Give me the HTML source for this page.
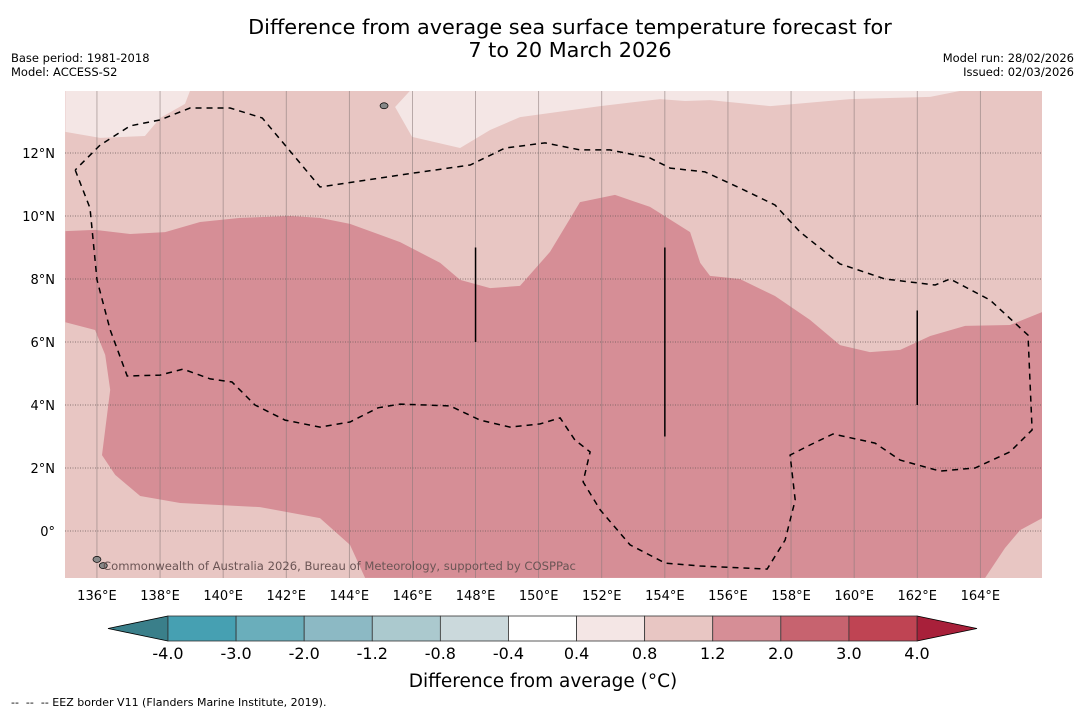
<!DOCTYPE html>
<html><head><meta charset="utf-8"><style>
body{margin:0;background:#fff;font-family:"DejaVu Sans","Liberation Sans",sans-serif;}
svg text{font-family:"DejaVu Sans","Liberation Sans",sans-serif;}
</style></head><body>
<svg id="c" width="1085" height="713" xmlns="http://www.w3.org/2000/svg">
<text x="570" y="34" font-size="20.8" text-anchor="middle">Difference from average sea surface temperature forecast for</text>
<text x="570" y="57" font-size="20.8" text-anchor="middle">7 to 20 March 2026</text>
<text x="11" y="62" font-size="11.5">Base period: 1981-2018</text>
<text x="11" y="76" font-size="11.5">Model: ACCESS-S2</text>
<text x="1074" y="62" font-size="11.5" text-anchor="end">Model run: 28/02/2026</text>
<text x="1074" y="76" font-size="11.5" text-anchor="end">Issued: 02/03/2026</text>
<defs><clipPath id="mc"><rect x="65" y="91" width="977" height="487"/></clipPath></defs>
<g id="map" clip-path="url(#mc)"></g>
<g id="axes"></g>
<g id="cbar"></g>
<text x="543" y="687" font-size="18.5" text-anchor="middle">Difference from average (°C)</text>
<text x="11" y="706" font-size="11" xml:space="preserve">--  --  -- EEZ border V11 (Flanders Marine Institute, 2019).</text>
</svg>
<script>
const lonTicks=[136,138,140,142,144,146,148,150,152,154,156,158,160,162,164];
const latTicks=[0,2,4,6,8,10,12];
const lightTL=[[135,13.97],[138.95,13.97],[138.79,13.56],[138.0,13.11],[137.52,12.54],[136.1,12.48],[135,12.67]];
const lightTR=[[145.92,13.97],[145.45,13.46],[145.99,12.51],[147.51,12.16],[148.46,12.73],[149.41,13.14],[151.95,13.49],[153.85,13.71],[154.64,13.65],[155.43,13.68],[157.34,13.49],[159.87,13.71],[162.41,13.78],[163.36,13.97]];
const warmCore=[[135,9.52],[135.94,9.56],[137.05,9.43],[138.16,9.49],[139.27,9.81],[140.54,9.94],[142.12,10.0],[143.07,9.94],[144.02,9.75],[145.61,9.17],[146.88,8.51],[147.51,7.97],[148.46,7.71],[149.41,7.78],[150.36,8.86],[151.31,10.44],[152.42,10.67],[153.53,10.29],[154.8,9.49],[155.12,8.51],[155.43,8.1],[156.38,8.0],[157.49,7.46],[158.6,6.7],[159.55,5.9],[160.5,5.68],[161.46,5.75],[162.41,6.19],[163.52,6.51],[164.94,6.54],[165.96,6.95],[165.96,0.41],[165.26,0.03],[164.78,-0.54],[164.15,-1.49],[144.5,-1.49],[144.02,-0.44],[143.07,0.41],[141.17,0.76],[138.64,0.89],[137.37,1.11],[136.58,1.78],[136.16,2.41],[136.42,4.48],[136.26,5.59],[135.94,6.38],[135,6.63]];
const eez=[[135.31,11.46],[135.78,10.25],[136.0,7.97],[136.42,6.38],[136.96,4.92],[138.0,4.95],[138.73,5.14],[139.59,4.83],[140.28,4.73],[141.01,4.0],[141.96,3.52],[143.07,3.3],[144.02,3.46],[144.91,3.91],[145.61,4.03],[147.19,3.97],[148.14,3.52],[149.09,3.3],[150.05,3.4],[150.68,3.59],[151.15,2.89],[151.63,2.51],[151.41,1.56],[151.95,0.67],[152.9,-0.44],[154.01,-1.02],[155.12,-1.11],[157.24,-1.21],[157.81,-0.29],[158.13,0.98],[157.97,2.41],[158.6,2.73],[159.33,3.08],[160.66,2.79],[161.46,2.25],[162.72,1.9],[163.83,2.0],[164.94,2.51],[165.64,3.21],[165.51,6.22],[164.31,7.33],[163.04,8.0],[162.57,7.81],[160.98,8.0],[159.55,8.48],[158.29,9.49],[157.49,10.35],[156.38,10.89],[155.27,11.4],[154.17,11.52],[153.53,11.84],[152.26,12.1],[151.31,12.1],[150.2,12.32],[148.94,12.16],[147.83,11.62],[145.61,11.3],[144.34,11.11],[143.07,10.92],[142.44,11.68],[141.24,13.11],[140.22,13.43],[138.95,13.43],[138.0,13.05],[137.05,12.86],[136.1,12.25],[135.31,11.46]];
const eezLines=[[148,6,9],[154,3,9],[162,4,7]];
const islands=[[145.1,13.5],[136.0,-0.9],[136.2,-1.1]];
const cbLevels=[-4.0,-3.0,-2.0,-1.2,-0.8,-0.4,0.4,0.8,1.2,2.0,3.0,4.0];
const cbColors=["#46a0b2","#6aaebb","#8cb9c4","#abc9ce","#cbd9dc","#ffffff","#f4e6e5","#e8c6c3","#d68e96","#c7636f","#bf4453"];
const NS="http://www.w3.org/2000/svg";
const X=lon=>65.4+(lon-135)*31.55, Y=lat=>531-lat*31.5;
function mk(p,t,a){const e=document.createElementNS(NS,t);for(const k in a)e.setAttribute(k,a[k]);p.appendChild(e);return e;}
const map=document.getElementById('map'),axes=document.getElementById('axes'),cb=document.getElementById('cbar');
const pts=a=>a.map(p=>X(p[0]).toFixed(1)+','+Y(p[1]).toFixed(1)).join(' ');
let r=mk(map,'rect',{x:65,y:91,width:977,height:487,fill:'#e8c6c3'});

let e=mk(map,'polygon',{points:pts(lightTL),fill:'#f4e6e5'});

e=mk(map,'polygon',{points:pts(lightTR),fill:'#f4e6e5'});

e=mk(map,'polygon',{points:pts(warmCore),fill:'#d68e96'});

lonTicks.forEach(l=>{const g=mk(map,'line',{x1:X(l),x2:X(l),y1:91,y2:578,stroke:'#8a7a7a','stroke-width':0.8,opacity:0.7});
});
latTicks.forEach(l=>{const g=mk(map,'line',{x1:65,x2:1042,y1:Y(l),y2:Y(l),stroke:'#6a5a5a','stroke-width':0.8,'stroke-dasharray':'1,1.5'});
});
islands.forEach(p=>{const g=mk(map,'ellipse',{cx:X(p[0]),cy:Y(p[1]),rx:4,ry:3,fill:'#888',stroke:'#000','stroke-width':0.7});
});
e=mk(map,'polyline',{points:pts(eez),fill:'none',stroke:'#000','stroke-width':1.5,'stroke-dasharray':'6,5'});

eezLines.forEach(v=>{const g=mk(map,'line',{x1:X(v[0]),x2:X(v[0]),y1:Y(v[1]),y2:Y(v[2]),stroke:'#000','stroke-width':1.5});
});
e=mk(map,'text',{x:103,y:570,'font-size':11.6,fill:'#6b5555'});e.textContent='Commonwealth of Australia 2026, Bureau of Meteorology, supported by COSPPac';

lonTicks.forEach(l=>{const t=mk(axes,'text',{x:X(l),y:600,'font-size':13,'text-anchor':'middle'});t.textContent=l+'°E';
});
latTicks.forEach(l=>{const t=mk(axes,'text',{x:55,y:Y(l)+5,'font-size':13,'text-anchor':'end'});t.textContent=l===0?'0°':l+'°N';
});
const cx0=168,cw=(917-168)/cbColors.length,cy=616,ch=25;
e=mk(cb,'polygon',{points:`${cx0},${cy} ${cx0},${cy+ch} 108,${cy+ch/2}`,fill:'#3a7f8a',stroke:'#000','stroke-width':0.8});

e=mk(cb,'polygon',{points:`917,${cy} 917,${cy+ch} 977,${cy+ch/2}`,fill:'#a8203a',stroke:'#000','stroke-width':0.8});

cbColors.forEach((c,i)=>{const s=mk(cb,'rect',{x:cx0+i*cw,y:cy,width:cw,height:ch,fill:c,stroke:'#333','stroke-width':0.8});
});
cbLevels.forEach((v,i)=>{const t=mk(cb,'text',{x:cx0+i*cw,y:659,'font-size':16,'text-anchor':'middle'});t.textContent=v.toFixed(1);
});
</script>
</body></html>
